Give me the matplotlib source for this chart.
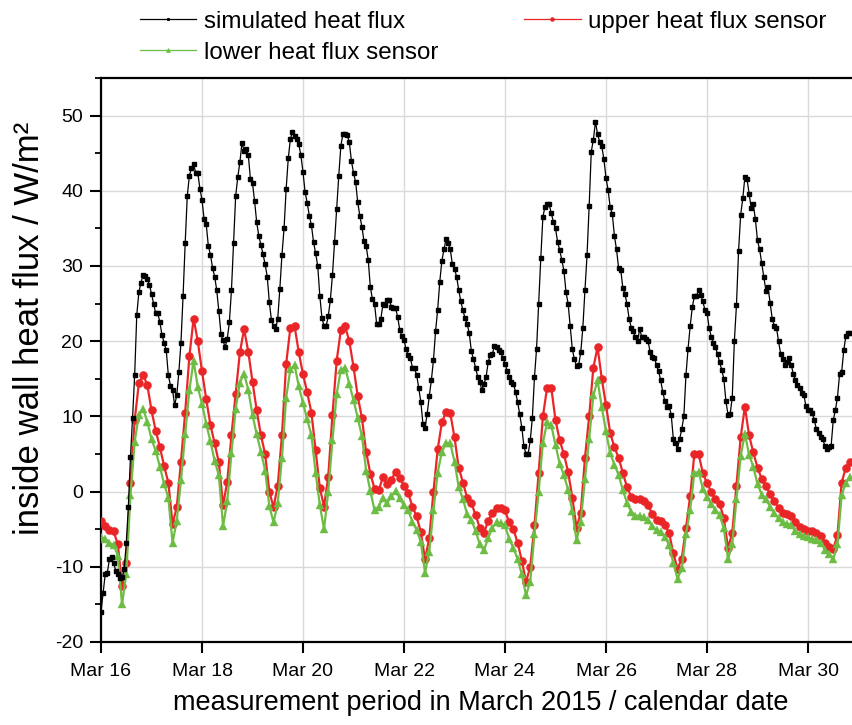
import numpy as np
import matplotlib
matplotlib.use("Agg")
import matplotlib.pyplot as plt
from matplotlib.ticker import MultipleLocator

plt.rcParams['font.family'] = ['Liberation Sans', 'DejaVu Sans']
plt.rcParams['axes.unicode_minus'] = False

# ---------------- data ----------------
# simulated heat flux, hourly samples starting Mar 16 00:00 (W/m²)
simulated = [
    -16.0, -13.5, -11.0, -10.8, -9.0, -8.7,
    -9.5, -10.5, -11.0, -11.5, -11.4, -10.3, -6.9, -2.0, 4.6, 9.8, 15.5,
    23.5, 26.5, 27.8, 28.8, 28.7, 28.3, 27.5, 26.3, 25.0, 23.7, 23.7, 22.5,
    20.8, 19.8, 18.8, 15.5, 14.1, 13.5, 11.5, 12.8, 15.9, 19.8, 26.0,
    33.0, 39.3, 42.0, 43.0, 43.5, 42.4, 42.4, 40.3, 38.8, 36.2, 35.6,
    32.7, 31.5, 29.8, 28.6, 26.8, 24.0, 21.0, 20.1, 19.2, 20.3, 22.5, 26.8,
    33.0, 39.3, 41.8, 43.8, 46.4, 45.3, 45.5, 44.8, 41.6, 41.0, 38.6,
    35.8, 34.0, 32.8, 31.6, 30.2, 28.6, 25.2, 22.8, 22.0, 21.6, 23.0,
    27.0, 31.5, 35.0, 40.3, 44.3, 46.9, 47.8, 47.3, 46.9, 46.2, 44.7, 42.5,
    39.8, 38.4, 36.7, 35.4, 33.2, 31.7, 30.0, 26.0, 23.1, 22.0, 22.0,
    23.3, 25.5, 28.8, 33.2, 37.6, 42.0, 46.0, 47.6, 47.6, 47.4, 46.5,
    44.0, 42.4, 41.2, 38.5, 36.7, 35.2, 33.3, 32.7, 30.8, 27.2, 25.6, 25.0,
    22.3, 22.3, 23.0, 24.9, 24.8, 25.5, 25.5, 24.6, 24.4, 24.4, 23.2,
    21.5, 20.7, 20.2, 18.9, 18.2, 17.8, 16.5, 16.4, 15.5, 13.8, 11.9,
    9.0, 8.5, 10.3, 12.7, 14.8, 17.5, 21.3, 24.2, 27.9, 30.7, 32.2, 33.6,
    33.0, 32.2, 30.2, 29.6, 28.6, 26.8, 25.3, 24.1, 23.1, 22.3, 21.1,
    18.7, 17.6, 16.5, 15.3, 14.6, 13.5, 14.3, 15.2, 17.2, 18.2, 18.3,
    19.4, 19.2, 18.8, 18.5, 17.8, 17.0, 16.1, 15.3, 14.6, 14.3, 13.3, 11.9,
    10.3, 8.5, 6.0, 5.0, 5.0, 6.8, 9.8, 15.2, 19.0, 25.0, 31.0,
    36.5, 37.9, 38.3, 38.2, 37.0, 35.9, 35.0, 33.2, 32.1, 30.8, 29.4,
    26.5, 25.0, 22.0, 18.9, 17.6, 16.7, 16.8, 18.5, 21.8, 26.8, 31.5, 38.0,
    45.2, 46.8, 49.2, 47.5, 46.5, 45.9, 44.2, 41.7, 40.1, 37.8, 36.9,
    34.0, 32.2, 29.7, 29.5, 27.1, 26.3, 24.9, 23.0, 21.8, 21.3, 20.5,
    20.0, 21.6, 20.6, 20.5, 20.3, 20.0, 18.5, 17.9, 17.8, 16.8, 16.0, 14.8,
    13.2, 12.0, 11.2, 11.4, 10.2, 7.0, 6.4, 5.7, 7.0, 8.3, 10.0,
    15.5, 19.0, 22.0, 24.5, 26.0, 26.0, 26.8, 26.2, 25.3, 24.2, 23.8,
    21.8, 20.6, 19.8, 19.2, 18.3, 17.2, 16.2, 15.0, 12.0, 10.2, 10.3, 12.5,
    20.0, 24.8, 32.0, 36.8, 39.0, 41.8, 41.6, 39.6, 37.7, 38.2, 36.2,
    33.4, 32.2, 30.4, 28.5, 26.7, 27.2, 25.1, 23.0, 22.0, 21.8, 20.0,
    18.3, 17.6, 16.9, 17.2, 17.7, 16.9, 15.7, 14.8, 14.2, 13.8, 13.1, 12.9,
    11.4, 10.8, 10.8, 10.5, 9.5, 8.3, 7.8, 7.3, 7.0, 6.1, 5.6,
    5.9, 6.1, 9.5, 10.8, 12.5, 15.6, 15.9, 18.8, 20.7, 21.1, 21.1,
]

# upper heat flux sensor, 2-hourly samples starting Mar 16 00:00 (W/m²)
upper = [
    -3.9, -4.6, -5.1, -5.3, -7.0, -12.5, -9.5, 1.2, 9.5,
    14.4, 15.5, 14.2, 10.8, 8.1, 5.9, 3.4, 1.2,
    -4.3, -2.1, 4.0, 10.5, 18.0, 23.0, 20.0, 16.0, 12.3, 8.9, 6.4, 3.9,
    -1.8, 1.3, 7.5, 13.0, 18.5, 21.6, 18.6, 14.6, 10.8, 7.5, 5.0,
    0.0, -2.1, 0.8, 7.5, 17.0, 21.8, 22.0, 18.5, 15.6, 13.2, 10.5,
    5.5, 0.5, -2.0, 2.0, 10.2, 17.4, 21.5, 22.0, 20.0, 16.6, 12.7, 9.8,
    5.3, 2.4, 0.4, 0.2, 1.9, 1.0, 1.6, 2.6, 1.8, 0.8, -0.2,
    -2.0, -3.3, -5.4, -9.0, -6.2, 0.0, 5.6, 9.2, 10.6, 10.4, 7.2,
    3.2, 1.2, -0.8, -1.5, -3.1, -4.8, -5.5, -3.9, -2.8, -2.2, -2.2, -2.5,
    -4.1, -5.0, -6.8, -9.2, -12.0, -10.0, -4.5, 2.5, 10.0, 13.8, 13.8,
    9.5, 6.8, 5.0, 2.6, -0.8, -4.8, -2.8, 4.5, 10.0, 16.5, 19.2,
    15.0, 11.5, 7.8, 5.9, 4.5, 2.5, 0.6, -0.7, -1.0, -1.0, -1.3, -1.8,
    -3.0, -3.8, -3.9, -4.5, -5.5, -8.2, -10.3, -8.9, -4.9, -0.6, 5.0,
    5.0, 2.5, 1.1, 0.0, -1.0, -1.6, -3.5, -7.5, -5.5, 0.8, 7.2,
    11.3, 7.5, 5.2, 3.2, 1.7, 0.7, -0.3, -1.3, -2.2, -2.8, -3.0, -3.3,
    -4.1, -4.7, -5.0, -5.2, -5.3, -5.5, -5.9, -6.8, -7.4, -7.6, -5.8,
    1.2, 3.2, 4.0,
]

# lower heat flux sensor, 2-hourly samples starting Mar 16 00:00 (W/m²)
lower = [
    -6.0, -6.3, -6.8, -7.1, -8.5, -15.0, -11.0, -0.5, 6.6,
    10.2, 11.0, 9.3, 7.0, 5.4, 3.3, 1.0, -0.8,
    -6.8, -3.9, 1.5, 7.6, 13.5, 17.4, 13.9, 11.7, 9.0, 6.7, 4.1, 2.2,
    -4.6, -1.3, 5.1, 11.0, 14.5, 15.7, 13.5, 10.2, 7.6, 5.3, 2.8,
    -1.9, -4.1, -1.5, 4.5, 12.5, 16.3, 16.8, 14.0, 11.8, 9.6, 7.5,
    2.5, -1.8, -5.0, 0.0, 6.8, 13.0, 16.2, 16.5, 14.3, 12.2, 9.8, 7.4,
    2.8, 0.1, -2.5, -2.0, -0.8, -1.5, -0.6, 0.1, -0.9, -1.8, -2.5,
    -4.0, -5.1, -6.7, -10.8, -8.0, -2.5, 2.5, 5.3, 6.4, 6.4, 4.0,
    0.6, -1.0, -3.0, -3.8, -5.2, -7.0, -7.8, -6.2, -4.8, -4.1, -4.2, -4.5,
    -6.3, -7.5, -9.0, -11.0, -13.8, -12.0, -5.7, 0.0, 6.5, 9.2, 8.8,
    6.2, 3.7, 2.2, 0.2, -2.6, -6.5, -4.0, 1.7, 7.0, 12.8, 14.8,
    11.2, 8.0, 5.1, 3.6, 2.2, 0.2, -1.5, -2.7, -3.2, -3.2, -3.4, -3.8,
    -4.6, -5.1, -5.4, -6.0, -7.1, -9.5, -11.6, -10.2, -5.7, -2.4, 2.5,
    2.6, 0.4, -0.7, -1.6, -2.4, -3.1, -4.9, -9.0, -7.0, -1.0, 4.7,
    7.7, 4.9, 3.3, 1.0, -0.4, -1.0, -2.0, -2.9, -3.5, -4.1, -4.3, -4.4,
    -5.3, -5.6, -5.9, -6.1, -6.3, -6.4, -6.8, -7.7, -8.3, -9.0, -7.0,
    -0.5, 1.2, 1.9,
]

sim_step_hours = 1
sensor_step_hours = 2
tick_days = [0, 2, 4, 6, 8, 10, 12, 14]
tick_labels = ["Mar 16", "Mar 18", "Mar 20", "Mar 22",
               "Mar 24", "Mar 26", "Mar 28", "Mar 30"]
series_names = ["simulated heat flux", "upper heat flux sensor", "lower heat flux sensor"]

# ---------------- figure ----------------
W, H = 853, 725
fig = plt.figure(figsize=(W / 100, H / 100), dpi=100)
x0, x1, y_top, y_bot = 101, 858.5, 78, 642
ax = fig.add_axes([x0 / W, (H - y_bot) / H, (x1 - x0) / W, (y_bot - y_top) / H])

t_sim = np.arange(len(simulated)) * sim_step_hours / 24.0
t_sen = np.arange(len(upper)) * sensor_step_hours / 24.0

red = '#ea2528'
green = '#6dbd45'
l_up, = ax.plot(t_sen, upper, color=red, lw=1.6, marker='o', ms=5.8,
                mec=red, mew=0.3, zorder=3)
l_lo, = ax.plot(t_sen, lower, color=green, lw=1.6, marker='^', ms=6.2,
                mec=green, mew=0.3, zorder=4)
l_sim, = ax.plot(t_sim, simulated, color='black', lw=0.9, marker='s', ms=2.4,
                 zorder=5)

ax.set_xlim(0, 15)
ax.set_ylim(-20, 55)
ax.set_xticks(tick_days)
ax.set_xticklabels(tick_labels)
ax.yaxis.set_major_locator(MultipleLocator(10))
ax.yaxis.set_minor_locator(MultipleLocator(5))
ax.set_yticks([-20, -10, 0, 10, 20, 30, 40, 50])

ax.grid(True, which='major', color='#d9d9d9', lw=1.0)
ax.set_axisbelow(True)

for side in ['left', 'bottom', 'top']:
    ax.spines[side].set_linewidth(1.6)
    ax.spines[side].set_color('black')
ax.spines['right'].set_visible(False)

ax.tick_params(axis='both', which='major', direction='out', length=8, width=1.5,
               labelsize=14, color='black')
ax.tick_params(axis='x', which='major', pad=7)
ax.tick_params(axis='y', which='major', pad=5)
ax.tick_params(axis='y', which='minor', direction='out', length=4, width=1.3)
ax.tick_params(top=False, right=False)

ax.set_xlabel("measurement period in March 2015 / calendar date", fontsize=19.5,
              va='center')
ax.xaxis.set_label_coords(0.5016, (y_bot - 703) / (y_bot - y_top))
ax.set_ylabel("inside wall heat flux / W/m²", fontsize=25, va='center')
ax.yaxis.set_label_coords((30 - x0) / (x1 - x0), (y_bot - 328) / (y_bot - y_top))

leg = fig.legend([l_sim, l_lo, l_up],
                 [series_names[0], series_names[2], series_names[1]],
                 ncol=2, loc='upper left', bbox_to_anchor=(130 / W, 1 - 1 / H),
                 frameon=False, fontsize=17.4, handlelength=2.35, handletextpad=0.3,
                 columnspacing=3.55, labelspacing=0.38, borderaxespad=0,
                 markerscale=0.5, numpoints=1)
for h in leg.legend_handles:
    h.set_linewidth(0.9)

fig.savefig("out.png", dpi=100)
